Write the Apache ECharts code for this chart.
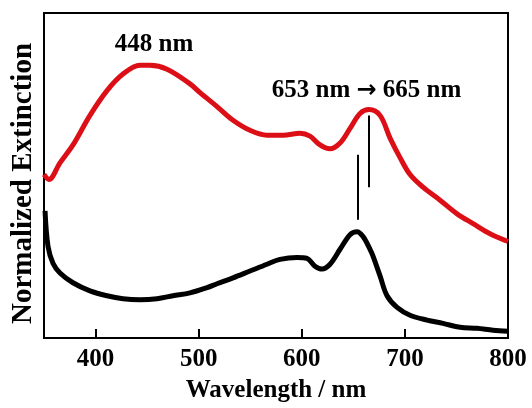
<!DOCTYPE html>
<html>
<head>
<meta charset="utf-8">
<script src="https://cdn.jsdelivr.net/npm/echarts@6/dist/echarts.min.js"></script>
<style>html,body{margin:0;padding:0;background:#fff;}#c{width:532px;height:408px;}</style>
</head>
<body>
<div id="c"></div>
<script>
// Red spectrum (after)
const redWl  = [350, 354.8, 365.5, 378.1, 394.6, 411.1, 426.6, 443.1, 452.8, 469.3, 491.6, 501.3, 517.8, 533.3, 549.8, 566.3, 581.8, 598.3, 608, 617.7, 627.4, 637.1, 646.8, 656.5, 665.2, 675.9, 685.6, 695.3, 705, 717.6, 734.1, 750.6, 766.1, 782.6, 800];
const redVal = [50.3, 48.8, 53.9, 59.4, 68.5, 76.1, 81.2, 83.9, 83.9, 82.7, 78.2, 75.5, 71.2, 67.0, 63.9, 62.4, 62.4, 63.0, 62.1, 59.4, 58.2, 60.0, 64.5, 69.1, 70.3, 68.5, 61.5, 55.5, 50.3, 46.4, 42.4, 38.2, 35.2, 32.1, 29.7];
// Black spectrum (before)
const blackWl  = [351, 353.9, 358.7, 365.5, 378.1, 394.6, 411.1, 426.6, 443.1, 459.6, 475.1, 491.6, 508.1, 517.8, 533.3, 549.8, 566.3, 578.9, 595.4, 605.1, 612.8, 619.6, 627.4, 637.1, 646.8, 653.6, 659.4, 666.2, 669.1, 675.9, 682.7, 692.4, 705, 721.5, 737, 753.5, 770, 785.5, 800];
const blackVal = [39.1, 28.2, 23.0, 20.0, 17.0, 14.5, 13.0, 12.1, 11.8, 12.1, 13.0, 13.9, 15.5, 16.7, 18.5, 20.6, 22.7, 24.2, 24.8, 24.5, 22.1, 21.2, 22.7, 27.3, 31.8, 32.7, 31.2, 27.3, 25.2, 19.1, 13.0, 9.4, 7.0, 5.5, 4.5, 3.3, 3.0, 2.4, 2.1];
// Tick labels
const xTicks = [400, 500, 600, 700, 800];
// Peak marker lines: [wavelength, yStart, yEnd]
const blackMarker = [654, 56.4, 36.4];
const redMarker = [665, 68.5, 46.4];
// Annotations: [wavelength, y, text]
const annot1 = [456.7, 90.4, '448 nm'];
const annot2 = [662.8, 76.0, '{a|653 nm }{b|\u2192}{a| 665 nm}'];

const FONT = '"Liberation Serif", "Times New Roman", serif';
const zip = (a, b) => a.map((x, i) => [x, b[i]]);

const chart = echarts.init(document.getElementById('c'));
chart.setOption({
  animation: false,
  backgroundColor: '#fff',
  grid: { left: 44, right: 24, top: 13, bottom: 65, show: true, borderColor: '#000', borderWidth: 2, backgroundColor: 'transparent' },
  xAxis: {
    type: 'value', min: 350, max: 800,
    name: 'Wavelength / nm', nameLocation: 'middle', nameGap: 40,
    nameTextStyle: { fontFamily: FONT, fontWeight: 'bold', fontSize: 25, color: '#000' },
    axisLine: { show: true, lineStyle: { color: '#000', width: 2 } },
    axisTick: { show: true, inside: true, length: 9, lineStyle: { color: '#000', width: 2 }, customValues: xTicks },
    axisLabel: { show: true, margin: 9, fontFamily: FONT, fontWeight: 'bold', fontSize: 25, color: '#000', customValues: xTicks },
    splitLine: { show: false }
  },
  yAxis: {
    type: 'value', min: 0, max: 100,
    name: 'Normalized Extinction', nameLocation: 'middle', nameGap: 6, nameRotate: 90,
    nameTextStyle: { fontFamily: FONT, fontWeight: 'bold', fontSize: 29, color: '#000', padding: [0, 16, 0, 0] },
    axisLine: { show: true, lineStyle: { color: '#000', width: 2 } },
    axisTick: { show: false },
    axisLabel: { show: false },
    splitLine: { show: false }
  },
  series: [
    {
      type: 'line', data: zip(redWl, redVal), smooth: 0.35, symbol: 'none',
      lineStyle: { color: '#dc0e16', width: 5 }, z: 3,
      markLine: {
        silent: true, symbol: 'none', label: { show: false },
        lineStyle: { color: '#000', width: 2, type: 'solid' },
        data: [[{ coord: [redMarker[0], redMarker[1]] }, { coord: [redMarker[0], redMarker[2]] }]]
      }
    },
    {
      type: 'line', data: zip(blackWl, blackVal), smooth: 0.35, symbol: 'none',
      lineStyle: { color: '#000', width: 5 }, z: 3,
      markLine: {
        silent: true, symbol: 'none', label: { show: false },
        lineStyle: { color: '#000', width: 2, type: 'solid' },
        data: [[{ coord: [blackMarker[0], blackMarker[1]] }, { coord: [blackMarker[0], blackMarker[2]] }]]
      },
      markPoint: {
        silent: true, symbol: 'circle', symbolSize: 0,
        label: {
          show: true, position: 'inside', fontFamily: FONT, fontWeight: 'bold', fontSize: 25, color: '#000',
          formatter: p => p.name,
          rich: {
            a: { fontFamily: FONT, fontWeight: 'bold', fontSize: 25, color: '#000' },
            b: { fontFamily: '"DejaVu Sans", sans-serif', fontWeight: 'bold', fontSize: 24, color: '#000' }
          }
        },
        data: [
          { name: annot1[2], coord: [annot1[0], annot1[1]] },
          { name: annot2[2], coord: [annot2[0], annot2[1]] }
        ]
      }
    }
  ]
});
</script>
</body>
</html>
